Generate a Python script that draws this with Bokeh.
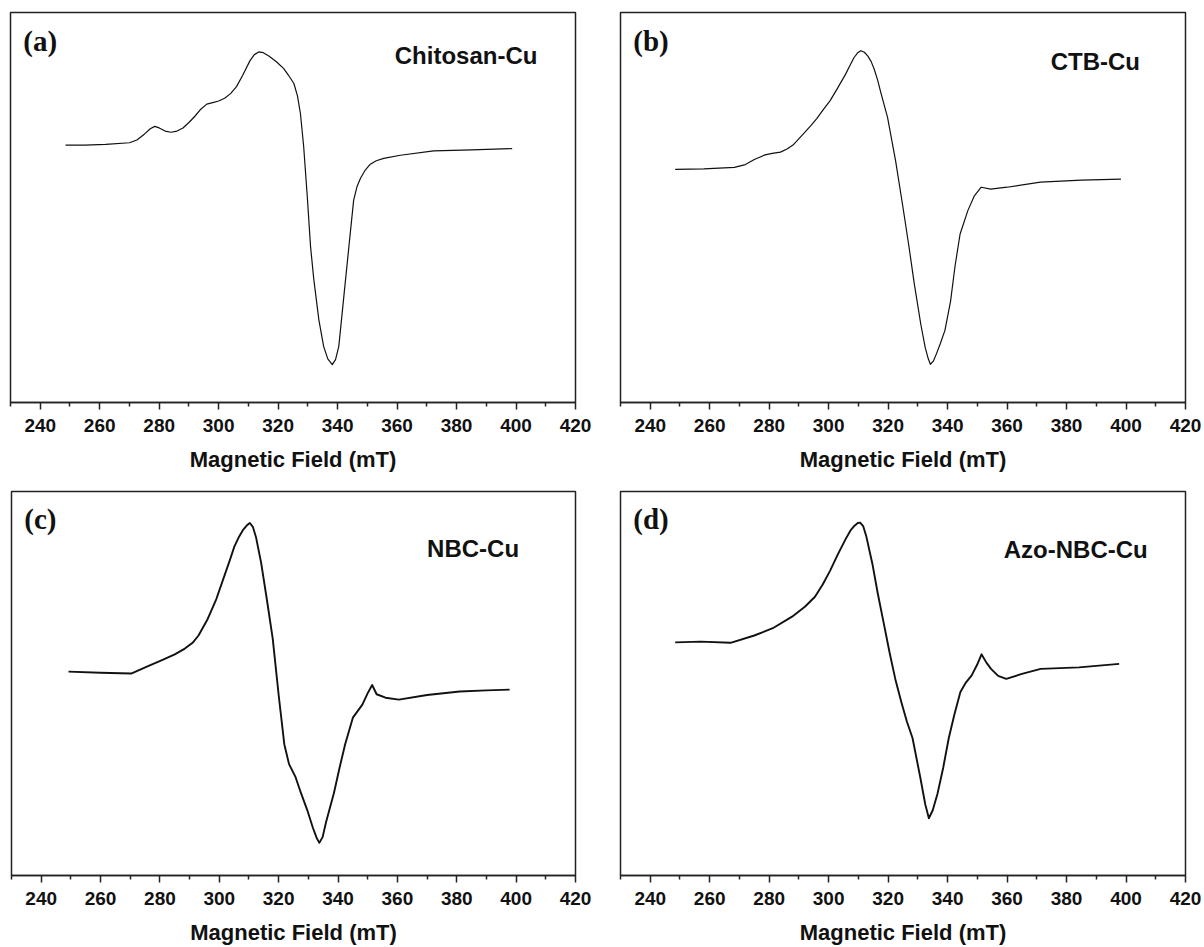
from bokeh.plotting import figure
from bokeh.models import Range1d, FixedTicker, Label
from bokeh.layouts import column, row
from bokeh.embed import file_html
from bokeh.resources import INLINE

# ---------------- data (Magnetic field in mT, intensity in arbitrary units) -------------
x_a = [248.5, 255, 262, 270, 272.5, 275, 277, 278.5, 280, 282, 284, 286, 288, 290, 292,
       294, 296, 298, 300, 302, 304, 306, 308, 310.5, 312, 313.5, 315, 317, 319.5, 321.9,
       323.5, 325.3, 326.5, 327.5, 328.6, 329.8, 330.9, 332, 333.7, 335.3, 336.7, 338.2,
       339.3, 340.4, 342.1, 343.8, 345.4, 346.5, 347.7, 349.3, 351, 353, 355.5, 361.1,
       372.3, 385, 398.7]
y_a = [66.0, 66.0, 66.2, 66.6, 67.3, 68.8, 70.2, 70.8, 70.4, 69.6, 69.3, 69.6, 70.4,
       71.8, 73.4, 75.2, 76.5, 76.9, 77.3, 78.0, 79.2, 81.0, 83.8, 87.6, 89.2, 89.9, 89.7,
       88.8, 87.3, 85.6, 83.9, 81.8, 78.6, 74.1, 65.5, 52.8, 40.0, 31.5, 21.2, 14.4, 11.2,
       9.7, 11.0, 14.4, 27.2, 40.0, 51.9, 55.3, 57.5, 59.6, 61.1, 62.0, 62.6, 63.4, 64.5,
       64.8, 65.1]

x_b = [248.4, 258, 268.3, 272, 275, 278.6, 281, 283.8, 286, 288, 291.5, 294, 296, 298,
       300.5, 303, 305.7, 307.2, 308.5, 309.8, 310.8, 312, 313.2, 314.3, 315.3, 316.5,
       317.5, 319.8, 322.5, 325, 327, 328.8, 331, 332.5, 333.5, 334.2, 335.2, 336.3, 337.5,
       339.1, 341, 342.5, 344.2, 346.8, 349, 351.3, 354.5, 360, 371.2, 385, 398.3]
y_b = [59.8, 59.9, 60.3, 61.0, 62.3, 63.5, 63.9, 64.2, 65.0, 66.0, 68.9, 71.0, 72.8, 74.9,
       77.4, 80.6, 84.2, 86.5, 88.4, 89.7, 90.2, 89.8, 88.8, 87.4, 85.5, 82.6, 79.6, 73.1,
       62.0, 50.0, 40.0, 30.4, 20.0, 14.0, 11.2, 9.8, 10.6, 12.6, 15.0, 18.5, 26.0, 35.0,
       43.2, 49.2, 53.0, 55.2, 54.7, 55.2, 56.5, 57.0, 57.3]

x_c = [249.2, 260, 270.3, 276, 280.7, 285, 288.4, 291, 293, 296.1, 299, 301.3, 303.5,
       305.1, 306.7, 308, 309.3, 310.3, 311.3, 312.4, 314.1, 316, 318, 320, 321.9, 323.5,
       325.7, 327.5, 329.6, 331.5, 332.8, 333.7, 334.8, 336, 338.6, 340.5, 342.4, 345,
       348.2, 350, 351.5, 353, 356, 360.5, 370, 381, 390, 397.8]
y_c = [53.1, 52.8, 52.6, 54.5, 56.1, 57.6, 59.1, 60.6, 62.5, 66.8, 72.0, 77.1, 82.0, 85.7,
       88.3, 90.0, 91.2, 91.8, 90.8, 88.0, 81.4, 72.0, 61.7, 47.0, 34.2, 29.0, 25.6, 21.5,
       17.1, 12.5, 9.8, 8.5, 10.0, 14.0, 21.4, 28.0, 34.2, 41.1, 44.5, 47.5, 49.6, 47.2,
       46.3, 45.8, 47.0, 47.9, 48.2, 48.4]

x_d = [248.4, 257, 267, 275, 281.2, 287.7, 292, 295.4, 298, 300.5, 303, 305.7, 307.3,
       308.7, 309.8, 310.6, 311.6, 312.6, 314.7, 316.5, 318.5, 320.5, 322.4, 324.5, 326.3,
       328.2, 330.8, 332.5, 333.7, 335, 336.6, 338.5, 340.4, 342.3, 344.3, 346.2, 348.1,
       350, 351.4, 353, 354.6, 357, 359.7, 365, 371.3, 384.2, 397.7]
y_d = [60.7, 60.9, 60.6, 62.5, 64.4, 67.4, 70.0, 72.6, 75.8, 79.4, 83.5, 87.6, 89.8, 91.1,
       91.8, 91.9, 91.0, 88.5, 81.2, 73.5, 65.8, 58.0, 51.2, 45.0, 40.1, 35.8, 25.6, 18.5,
       14.9, 17.0, 21.3, 28.0, 35.8, 42.0, 47.8, 50.3, 52.1, 55.0, 57.6, 55.5, 53.8, 52.0,
       51.2, 52.5, 53.8, 54.2, 55.1]

panel_tags = ["(a)", "(b)", "(c)", "(d)"]
sample_names = ["Chitosan-Cu", "CTB-Cu", "NBC-Cu", "Azo-NBC-Cu"]
major_ticks = [240, 260, 280, 300, 320, 340, 360, 380, 400, 420]
minor_ticks = [230, 250, 270, 290, 310, 330, 350, 370, 390, 410]
x_title = "Magnetic Field (mT)"


def make_panel(xs, ys, tag, name, w, h, bl, br, bt, bb, lw, name_x, name_y):
    p = figure(width=w, height=h, output_backend="svg", toolbar_location=None,
               x_range=Range1d(230, 420), y_range=Range1d(0, 100),
               min_border_left=bl, min_border_right=br, min_border_top=bt,
               min_border_bottom=bb)
    p.line(xs, ys, line_color="#111111", line_width=lw, line_join="round")
    p.yaxis.visible = False
    p.grid.visible = False
    p.outline_line_color = "#222222"
    p.outline_line_width = 1.5
    p.outline_line_alpha = 1.0
    ax = p.xaxis[0]
    ax.ticker = FixedTicker(ticks=major_ticks, minor_ticks=minor_ticks)
    ax.axis_line_color = "#222222"
    ax.axis_line_width = 1.5
    ax.major_tick_line_color = "#222222"
    ax.major_tick_line_width = 1.5
    ax.minor_tick_line_color = "#222222"
    ax.minor_tick_line_width = 1.5
    ax.major_tick_in = 0
    ax.major_tick_out = 7
    ax.minor_tick_in = 0
    ax.minor_tick_out = 4
    ax.major_label_standoff = 9
    ax.major_label_text_font = "Liberation Sans"
    ax.major_label_text_font_style = "bold"
    ax.major_label_text_font_size = "19px"
    ax.major_label_text_color = "#111111"
    ax.axis_label = x_title
    ax.axis_label_standoff = 12
    ax.axis_label_text_font = "Liberation Sans"
    ax.axis_label_text_font_style = "bold"
    ax.axis_label_text_font_size = "22px"
    ax.axis_label_text_color = "#111111"
    p.add_layout(Label(x=234.3, y=92.8, text=tag, text_font="Liberation Serif",
                       text_font_style="bold", text_font_size="29px",
                       text_color="#111111", text_baseline="middle", text_align="left"))
    p.add_layout(Label(x=name_x, y=name_y, text=name, text_font="Liberation Sans",
                       text_font_style="bold", text_font_size="24px",
                       text_color="#111111", text_baseline="middle", text_align="right"))
    p.background_fill_color = "white"
    p.border_fill_color = "white"
    return p


pa = make_panel(x_a, y_a, panel_tags[0], sample_names[0], 600, 480, 10, 25, 12, 78, 1.2, 407.2, 89.0)
pb = make_panel(x_b, y_b, panel_tags[1], sample_names[1], 604, 480, 20, 19, 12, 78, 1.2, 404.7, 87.4)
pc = make_panel(x_c, y_c, panel_tags[2], sample_names[2], 600, 467, 11, 25, 11, 67, 1.9, 401.0, 85.1)
pd = make_panel(x_d, y_d, panel_tags[3], sample_names[3], 604, 467, 20, 19, 10, 68, 1.9, 407.3, 84.9)

layout = column(row(pa, pb, spacing=0), row(pc, pd, spacing=0), spacing=0)

open("out.html", "w").write(file_html(layout, INLINE))
